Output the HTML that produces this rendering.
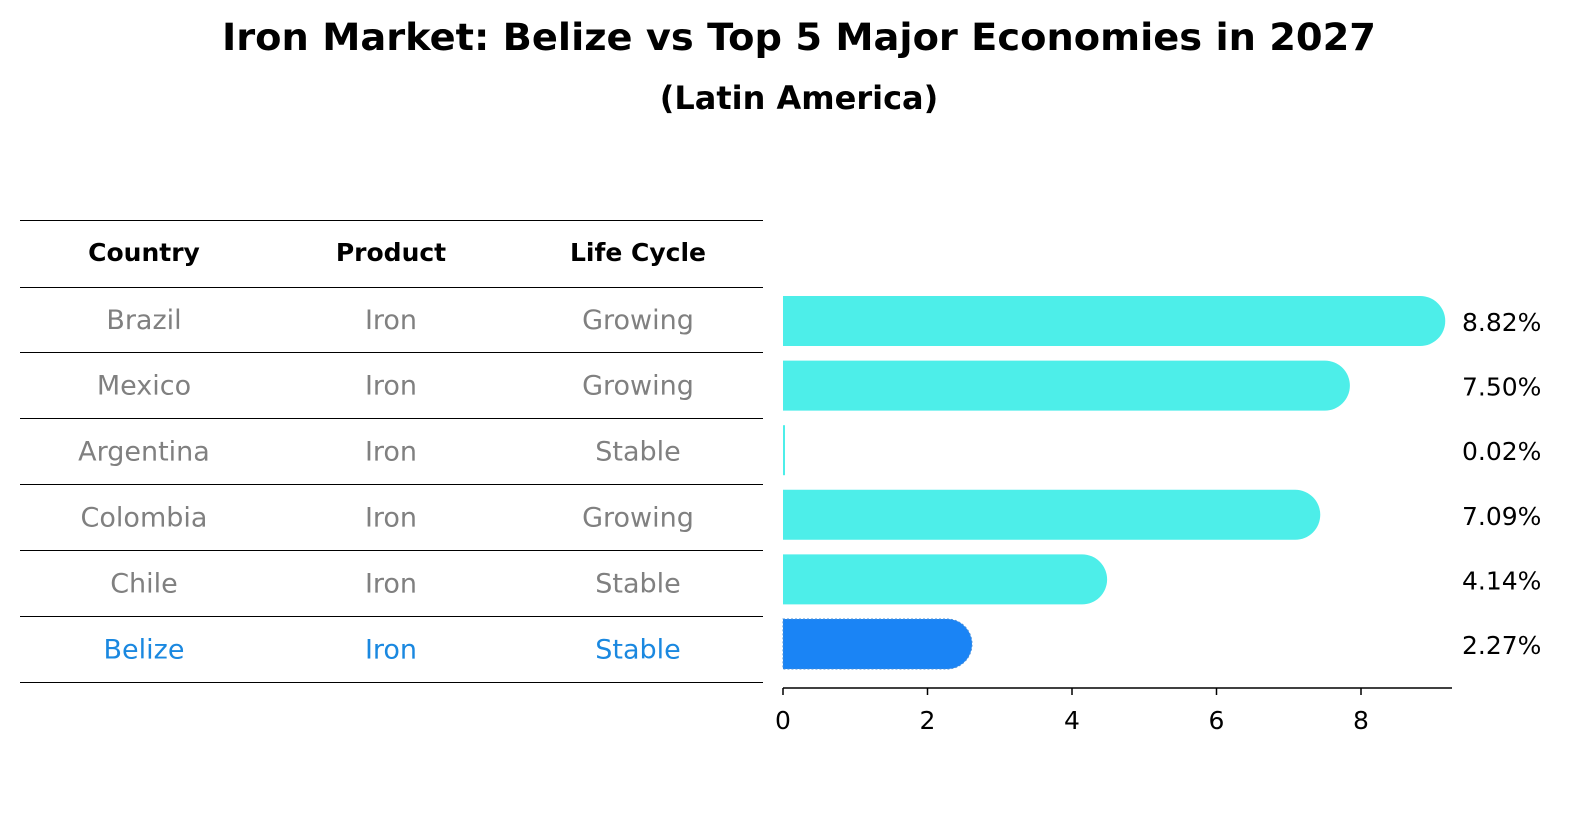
<!DOCTYPE html>
<html><head><meta charset="utf-8"><style>
html,body{margin:0;padding:0;background:#fff;overflow:hidden;width:1586px;height:823px;}
svg{display:block;}
</style></head><body>
<svg width="1586" height="823" xmlns="http://www.w3.org/2000/svg" id="svg" font-family="DejaVu Sans, Liberation Sans, sans-serif">
<rect width="1586" height="823" fill="#fff"/>
<text x="799" y="50" text-anchor="middle" font-size="37" font-weight="bold" textLength="1154" lengthAdjust="spacingAndGlyphs">Iron Market: Belize vs Top 5 Major Economies in 2027</text>
<text x="799" y="109" text-anchor="middle" font-size="32" font-weight="bold">(Latin America)</text>
<g id="table"></g>
<g id="bars"></g>
</svg>
<script>
const countries=["Brazil","Mexico","Argentina","Colombia","Chile","Belize"];
const products=["Iron","Iron","Iron","Iron","Iron","Iron"];
const lifeCycles=["Growing","Growing","Stable","Growing","Stable","Stable"];
const values=[8.82,7.50,0.02,7.09,4.14,2.27];
const ticks=[0,2,4,6,8];
const NS="http://www.w3.org/2000/svg";
const tbl=document.getElementById('table'),bars=document.getElementById('bars');
function mk(t,a,p){const e=document.createElementNS(NS,t);for(const k in a)e.setAttribute(k,a[k]);p.appendChild(e);return e;}
const x0=783,ppu=72.25;
const xs=v=>x0+v*ppu;
const rowY=i=>321+i*64.6;
const colX=[144,391,638];
const lineYs=[220.5,287.5,352.5,418.5,484.5,550.5,616.5,682.5];
lineYs.forEach(y=>{const l=mk('line',{x1:20,x2:763,y1:y,y2:y,stroke:'#000','stroke-width':1},tbl);

});
["Country","Product","Life Cycle"].forEach((h,j)=>{const t=mk('text',{x:colX[j],y:261,'text-anchor':'middle','font-size':25,'font-weight':'bold'},tbl);t.textContent=h;

});
countries.forEach((c,i)=>{const col=c==="Belize"?"#1a88e0":"#808080";
[c,products[i],lifeCycles[i]].forEach((v,j)=>{const t=mk('text',{x:colX[j],y:(lineYs[i+1]+lineYs[i+2])/2+9,'text-anchor':'middle','font-size':27,fill:col},tbl);t.textContent=v;

});});
const h=50,r=25;
values.forEach((v,i)=>{const cy=rowY(i),x1=xs(v);const col=countries[i]==="Belize"?"#1a84f5":"#4deee9";
let p;
if(v<0.3){p=mk('rect',{x:x0,y:cy-h/2,width:Math.max(x1-x0,2),height:h,fill:col},bars);}
else{p=mk('path',{d:`M${x0},${cy-h/2} L${x1},${cy-h/2} A${r},${r} 0 0 1 ${x1},${cy+h/2} L${x0},${cy+h/2} Z`,fill:col},bars);
if(countries[i]==="Belize"){p.setAttribute('stroke','#4a8fd8');p.setAttribute('stroke-dasharray','2,2');}}


const t=mk('text',{x:1462,y:cy+10,'font-size':25},bars);t.textContent=v.toFixed(2)+'%';

});
const ax=mk('line',{x1:x0,x2:1452,y1:688,y2:688,stroke:'#000','stroke-width':1.5},bars);


ticks.forEach(v=>{const tk=mk('line',{x1:xs(v),x2:xs(v),y1:688,y2:695,stroke:'#000','stroke-width':1.5},bars);


const t=mk('text',{x:xs(v),y:729,'text-anchor':'middle','font-size':25},bars);t.textContent=v;

});
</script>
</body></html>
